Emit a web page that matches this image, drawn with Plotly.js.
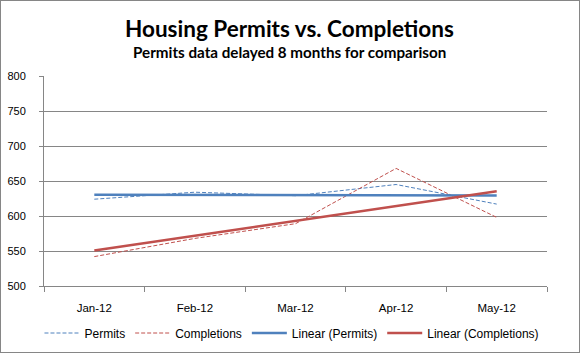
<!DOCTYPE html>
<html><head><meta charset="utf-8">
<script src="https://cdn.plot.ly/plotly-3.0.1.min.js"></script>
<style>
html,body{margin:0;padding:0;background:#fff;}
#frame{width:580px;height:353px;box-sizing:border-box;border:1px solid #868686;}
#chart{width:578px;height:351px;}
</style></head>
<body><div id="frame"><div id="chart"></div></div>
<script>
const categories = ["Jan-12", "Feb-12", "Mar-12", "Apr-12", "May-12"];
const permits = [624, 634, 629, 645, 617];
const completions = [542, 568, 589, 668, 598];
const yTicks = [500, 550, 600, 650, 700, 750, 800];
const titleText = "Housing Permits vs. Completions";
const subtitleText = "Permits data delayed 8 months for comparison";

function linearFit(vals) {
  const n = vals.length;
  const xs = vals.map((_, i) => i);
  const mx = xs.reduce((a, b) => a + b, 0) / n;
  const my = vals.reduce((a, b) => a + b, 0) / n;
  let num = 0, den = 0;
  xs.forEach((x, i) => { num += (x - mx) * (vals[i] - my); den += (x - mx) * (x - mx); });
  const slope = num / den;
  return xs.map(x => my + slope * (x - mx));
}

const blue = "#4F81BD", red = "#C0504D";
const traces = [
  {x: categories, y: permits, name: "Permits", type: "scatter", mode: "lines",
   line: {color: blue, width: 1, dash: "4px,2px"}},
  {x: categories, y: completions, name: "Completions", type: "scatter", mode: "lines",
   line: {color: red, width: 1, dash: "4px,2px"}},
  {x: categories, y: linearFit(permits), name: "Linear (Permits)", type: "scatter", mode: "lines",
   line: {color: blue, width: 2.5}},
  {x: categories, y: linearFit(completions), name: "Linear (Completions)", type: "scatter", mode: "lines",
   line: {color: red, width: 2.5}}
];

const ppy = py => 1 + (76 - py) / 210;   // page y -> paper y
const layout = {
  width: 578, height: 351,
  margin: {l: 43, r: 32, t: 75, b: 66, autoexpand: false},
  paper_bgcolor: "#fff", plot_bgcolor: "#fff",
  font: {family: "Liberation Sans, Arial, sans-serif", size: 11, color: "#000"},
  showlegend: true,
  annotations: [
    {text: "<b>" + titleText + "</b>", xref: "paper", yref: "paper", x: 0.488, y: ppy(29),
     xanchor: "center", yanchor: "middle", showarrow: false,
     font: {family: "Lato, Open Sans, sans-serif", size: 22.5, color: "#000"}},
    {text: "<b>" + subtitleText + "</b>", xref: "paper", yref: "paper", x: 0.488, y: ppy(52),
     xanchor: "center", yanchor: "middle", showarrow: false,
     font: {family: "Lato, Open Sans, sans-serif", size: 15.2, color: "#000"}}
  ],
  xaxis: {type: "category", showline: true, linecolor: "#868686", linewidth: 1,
    ticks: "outside", tickson: "boundaries", ticklen: 5, tickcolor: "#868686",
    showgrid: false, zeroline: false, fixedrange: true, ticklabelstandoff: 11,
    tickfont: {size: 11.5}, range: [-0.5, 4.5]},
  yaxis: {range: [500, 800], tickvals: yTicks, showline: true, linecolor: "#868686", linewidth: 1,
    ticks: "outside", ticklen: 4, tickcolor: "#868686", showgrid: true, gridcolor: "#868686",
    gridwidth: 1, zeroline: false, fixedrange: true, ticklabelstandoff: 11},
  legend: {orientation: "h", x: 0.493, xanchor: "center", y: ppy(333), yanchor: "middle",
    font: {size: 12}, itemwidth: 35, tracegroupgap: 0}
};
Plotly.newPlot("chart", traces, layout, {staticPlot: true});
</script></body></html>
